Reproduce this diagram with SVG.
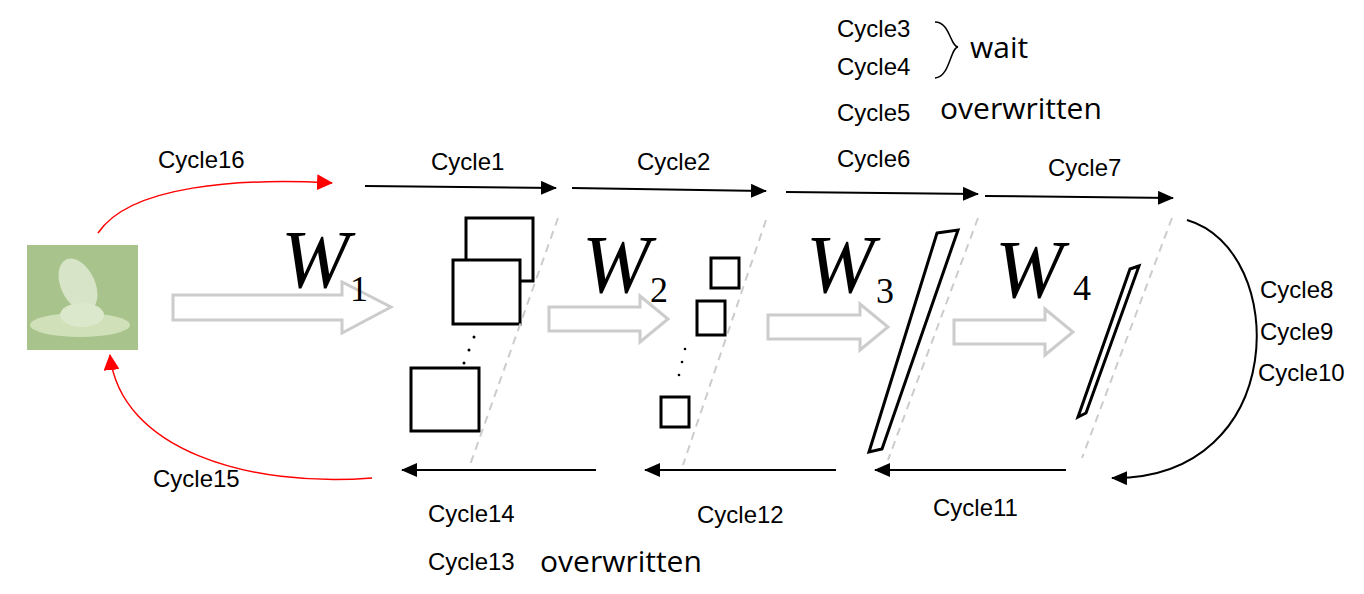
<svg xmlns="http://www.w3.org/2000/svg" width="1364" height="594" viewBox="0 0 1364 594">
<style>
.t{font-family:"Liberation Sans",Arial,sans-serif;font-size:24px;fill:#000}
.b{font-family:"Open Sans","Liberation Sans",sans-serif;font-size:30px;fill:#000}
.w{font-family:"Liberation Serif","DejaVu Serif",serif;font-style:italic;font-size:82px}
.s{font-family:"Liberation Serif","DejaVu Serif",serif;font-size:36px}
.h{fill:#fff;stroke:#ccc;stroke-width:3}
.k{fill:#fff;stroke:#000;stroke-width:3}
.d{stroke:#ccc;stroke-width:2;stroke-dasharray:8,6;fill:none}
.a{stroke:#000;stroke-width:2;fill:none;marker-end:url(#ab)}
.r{stroke:#f00;stroke-width:1.5;fill:none;marker-end:url(#ar)}
</style>
<defs>
<marker id="ab" markerWidth="16" markerHeight="14" refX="15" refY="7" orient="auto" markerUnits="userSpaceOnUse" viewBox="0 0 16 14"><path d="M0,0L16,7L0,14z" fill="#000"/></marker>
<marker id="ar" markerWidth="16" markerHeight="16" refX="15" refY="8" orient="auto" markerUnits="userSpaceOnUse" viewBox="0 0 16 16"><path d="M0,0L16,8L0,16z" fill="#f00"/></marker>
</defs>
<rect width="1364" height="594" fill="#fff"/>
<g id="image">
<rect x="27" y="245" width="111" height="105" fill="#a8c48c"/>
<ellipse cx="78" cy="285" rx="17" ry="28" fill="#d8e4c8" transform="rotate(-25 78 285)"/>
<ellipse cx="80" cy="325" rx="50" ry="12" fill="#d0e0b8"/>
<ellipse cx="82" cy="315" rx="22" ry="12" fill="#dce8cc"/>
</g>
<g id="connectors">
<path class="r" d="M98,233 C130,185 240,178 332,183"/>
<path class="r" d="M372,478 C250,488 120,450 110,355"/>
<line class="a" x1="365" y1="186" x2="556" y2="188"/>
<line class="a" x1="572" y1="188" x2="766" y2="191"/>
<line class="a" x1="786" y1="192" x2="978" y2="194"/>
<line class="a" x1="985" y1="196" x2="1173" y2="198"/>
<line class="a" x1="596" y1="470" x2="402" y2="470"/>
<line class="a" x1="836" y1="470" x2="645" y2="470"/>
<line class="a" x1="1066" y1="470" x2="875" y2="470"/>
<path class="a" stroke-width="1.5" d="M1187,220 C1290,250 1290,480 1112,478"/>
<path stroke="#000" stroke-width="1.5" fill="none" d="M935,22 C950,22 950,46 958,47 C950,48 950,77 935,78"/>
</g>
<g id="w1">
<path class="h" d="M173,295H342V282L391,307L342,333V320H173z"/>
<text class="w" x="281" y="287">W</text><text class="s" x="350" y="301">1</text>
</g>
<g id="w2">
<path class="h" d="M549,307H640V296L668,319L640,342V331H549z"/>
<text class="w" x="582" y="292">W</text><text class="s" x="650" y="302">2</text>
</g>
<g id="w3">
<path class="h" d="M768,315H860V304L888,327L860,350V339H768z"/>
<text class="w" x="806" y="292">W</text><text class="s" x="876" y="303">3</text>
</g>
<g id="w4">
<path class="h" d="M954,320H1045V309L1073,332L1045,355V344H954z"/>
<text class="w" x="995" y="297">W</text><text class="s" x="1073" y="300">4</text>
</g>
<g id="layer1">
<rect class="k" x="466" y="218" width="67" height="63"/>
<rect class="k" x="453" y="260" width="67" height="64"/>
<rect class="k" x="411" y="368" width="68" height="63"/>
<circle cx="474" cy="337" r="1.5"/><circle cx="469" cy="350" r="1.5"/><circle cx="464" cy="363" r="1.5"/>
<line class="d" x1="558" y1="218" x2="470" y2="465"/>
</g>
<g id="layer2">
<rect class="k" x="711" y="258" width="28" height="30"/>
<rect class="k" x="697" y="301" width="28" height="34"/>
<rect class="k" x="661" y="397" width="28" height="30"/>
<circle cx="685" cy="349" r="1.3"/><circle cx="682" cy="362" r="1.3"/><circle cx="679" cy="375" r="1.3"/>
<line class="d" x1="766" y1="220" x2="683" y2="465"/>
</g>
<g id="layer3">
<path class="k" d="M937,233L958,230L882,449L869,452z"/>
<line class="d" x1="978" y1="218" x2="888" y2="460"/>
</g>
<g id="layer4">
<path class="k" d="M1130,269L1139,266L1086,413L1078,417z"/>
<line class="d" x1="1172" y1="218" x2="1082" y2="458"/>
</g>
<g id="labels">
<text class="t" x="158" y="168">Cycle16</text>
<text class="t" x="431" y="170">Cycle1</text>
<text class="t" x="637" y="170">Cycle2</text>
<text class="t" x="837" y="37">Cycle3</text>
<text class="t" x="837" y="75">Cycle4</text>
<text class="t" x="837" y="121">Cycle5</text>
<text class="t" x="837" y="167">Cycle6</text>
<text class="t" x="1048" y="176">Cycle7</text>
<text class="b" x="970" y="58">wait</text>
<text class="b" x="940" y="119">overwritten</text>
<text class="t" x="1260" y="298">Cycle8</text>
<text class="t" x="1260" y="340">Cycle9</text>
<text class="t" x="1258" y="381">Cycle10</text>
<text class="t" x="933" y="516">Cycle11</text>
<text class="t" x="697" y="523">Cycle12</text>
<text class="t" x="428" y="522">Cycle14</text>
<text class="t" x="428" y="570">Cycle13</text>
<text class="b" x="540" y="572">overwritten</text>
<text class="t" x="153" y="487">Cycle15</text>
</g>
</svg>
